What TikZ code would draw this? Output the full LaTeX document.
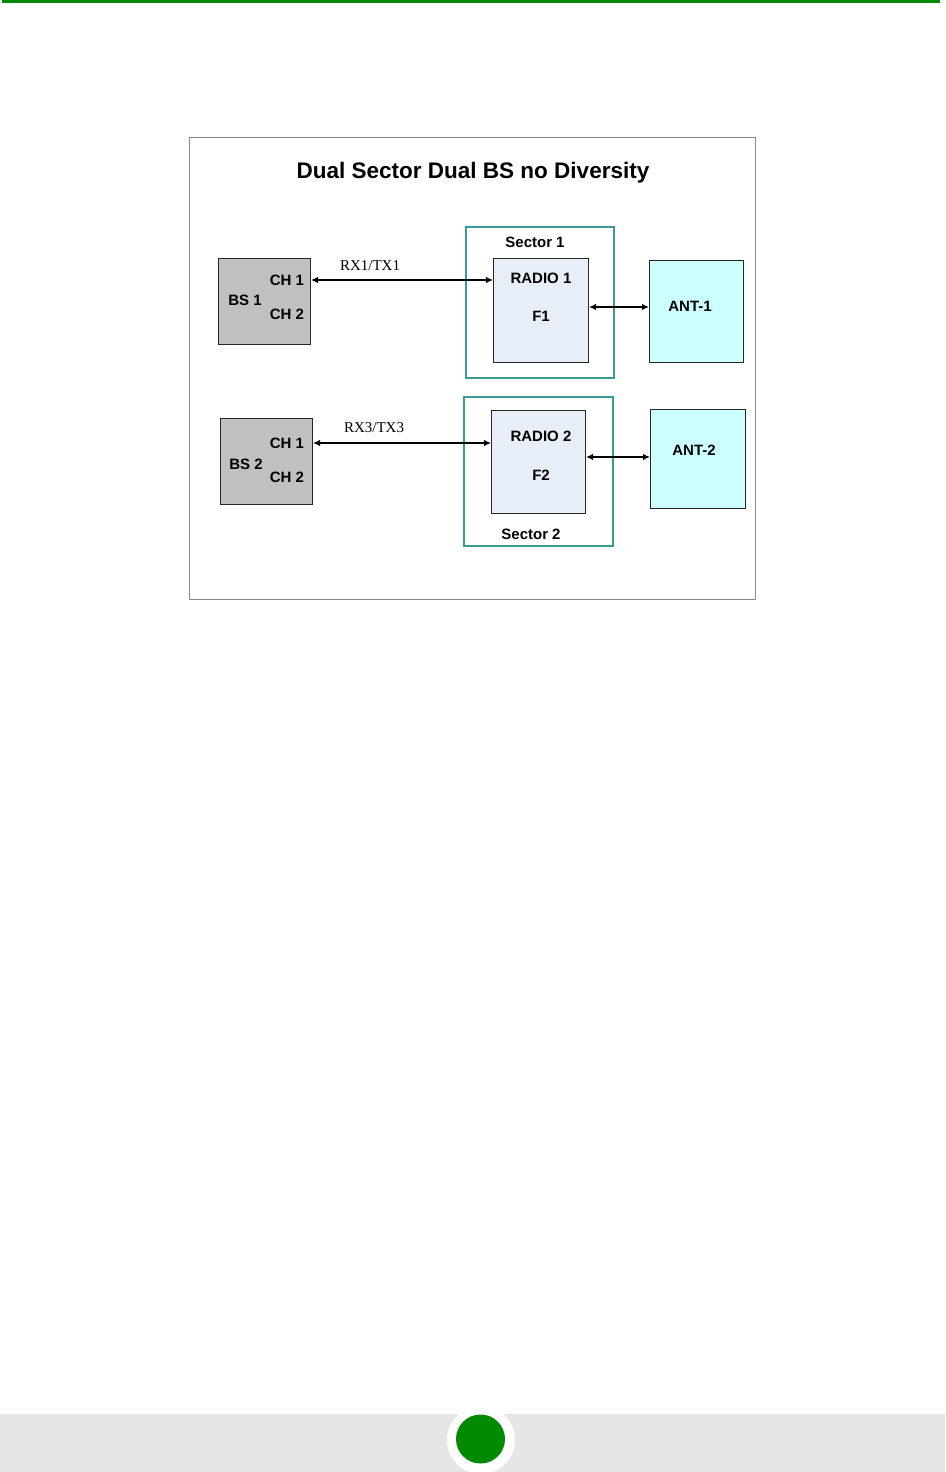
\documentclass[tikz,border=0pt]{standalone}
\usepackage{fontspec}
\setmainfont{Liberation Sans}
\newfontfamily\serifrm{Liberation Serif}
\usetikzlibrary{arrows.meta}
\definecolor{topgreen}{HTML}{008A00}
\definecolor{bandgrey}{HTML}{E6E6E6}
\definecolor{bsgrey}{HTML}{C0C0C0}
\definecolor{radiofill}{HTML}{E8EEF8}
\definecolor{antfill}{HTML}{CCFFFF}
\definecolor{sectorteal}{HTML}{3A9A9A}
\definecolor{framegrey}{HTML}{8A8A8A}
\tikzset{
  px/.style={x=1pt,y=-1pt},
  box/.style={draw=black!85,line width=1pt,inner sep=0pt,anchor=north west},
  bsbox/.style={box,fill=bsgrey},
  radiobox/.style={box,fill=radiofill},
  antbox/.style={box,fill=antfill},
  sectorbox/.style={draw=sectorteal,line width=1.6pt,inner sep=0pt,anchor=north west},
  lbl/.style={font=\fontsize{15}{15}\selectfont\bfseries,inner sep=0pt},
  sig/.style={font=\serifrm\fontsize{15}{15}\selectfont,inner sep=0pt},
  link/.style={line width=2.6pt,{Latex[length=7pt,width=6.5pt]}-{Latex[length=7pt,width=6.5pt]}},
}
\begin{document}
\begin{tikzpicture}[px]
\useasboundingbox (0,0) rectangle (945,1472);
% page decoration
\fill[topgreen] (2,0) rectangle (940,3);
\fill[bandgrey] (0,1414) rectangle (945,1472);
\fill[white] (481,1440) circle (34);
\fill[topgreen] (480.5,1439) circle (24.5);
% outer frame
\node[draw=framegrey,line width=0.8pt,inner sep=0pt,anchor=north west,minimum width=566pt,minimum height=462pt] (frame) at (189,137) {};
\node[font=\fontsize{22.5}{22.5}\selectfont\bfseries,inner sep=0pt] (title) at (473,173) {Dual Sector Dual BS no Diversity};
% row 1
\node[bsbox,minimum width=92pt,minimum height=86pt] (bs1) at (218,258) {};
\node[lbl] (bs1ch1) at (287,280) {CH 1};
\node[lbl] (bs1name) at (245,300) {BS 1};
\node[lbl] (bs1ch2) at (287,314) {CH 2};
\node[sectorbox,minimum width=148pt,minimum height=151pt] (sec1) at (465,226) {};
\node[lbl] (sec1lbl) at (535,242) {Sector 1};
\node[radiobox,minimum width=95pt,minimum height=104pt] (radio1) at (493,258) {};
\node[lbl] (radio1lbl) at (541,278) {RADIO 1};
\node[lbl] (f1) at (541,316) {F1};
\node[antbox,minimum width=94pt,minimum height=102pt] (ant1) at (649,260) {};
\node[lbl] (ant1lbl) at (690,306) {ANT-1};
\coordinate (a1s) at (bs1.east |- 0,280);
\coordinate (a1e) at (radio1.west |- 0,280);
\draw[link] (a1s) -- (a1e);
\node[sig] (rx1) at (370,266) {RX1/TX1};
\coordinate (b1s) at (radio1.east |- 0,307);
\coordinate (b1e) at (ant1.west |- 0,307);
\draw[link] (b1s) -- (b1e);
% row 2
\node[bsbox,minimum width=92pt,minimum height=86pt] (bs2) at (220,418) {};
\node[lbl] (bs2ch1) at (287,443) {CH 1};
\node[lbl] (bs2name) at (246,464) {BS 2};
\node[lbl] (bs2ch2) at (287,477) {CH 2};
\node[sectorbox,minimum width=149pt,minimum height=149pt] (sec2) at (463,396) {};
\node[lbl] (sec2lbl) at (531,534) {Sector 2};
\node[radiobox,minimum width=94pt,minimum height=103pt] (radio2) at (491,410) {};
\node[lbl] (radio2lbl) at (541,436) {RADIO 2};
\node[lbl] (f2) at (541,475) {F2};
\node[antbox,minimum width=95pt,minimum height=99pt] (ant2) at (650,409) {};
\node[lbl] (ant2lbl) at (694,450) {ANT-2};
\coordinate (a2s) at (bs2.east |- 0,443);
\coordinate (a2e) at (radio2.west |- 0,443);
\draw[link] (a2s) -- (a2e);
\node[sig] (rx3) at (374,428) {RX3/TX3};
\coordinate (b2s) at (radio2.east |- 0,457);
\coordinate (b2e) at (ant2.west |- 0,457);
\draw[link] (b2s) -- (b2e);
\end{tikzpicture}
\end{document}
